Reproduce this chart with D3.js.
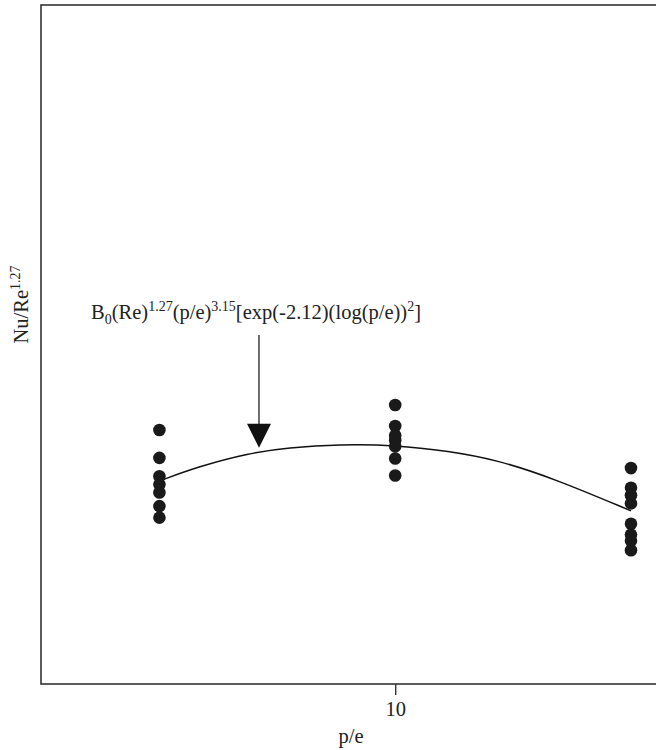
<!DOCTYPE html>
<html><head><meta charset="utf-8">
<script src="https://cdn.jsdelivr.net/npm/d3@7"></script>
<style>body{margin:0;background:#fff}svg{display:block}text{font-family:"Liberation Serif","Times New Roman",serif}</style>
</head><body>
<svg id="c" width="656" height="750"></svg>
<script>
// Data (p/e on a log axis; Nu/Re^1.27 in arbitrary units)
const pe = [5, 10, 20];
const nuLeft  = [0.374, 0.333, 0.306, 0.294, 0.282, 0.262, 0.245];
const nuMid   = [0.411, 0.380, 0.366, 0.359, 0.350, 0.332, 0.307];
const nuRight = [0.318, 0.289, 0.278, 0.266, 0.236, 0.220, 0.211, 0.197];
const fitPe = [5, 5.6, 6.5, 7.3, 8.5, 10, 11.7, 13.5, 16, 20];
const fitNu = [0.299, 0.320, 0.340, 0.348, 0.353, 0.352, 0.343, 0.330, 0.302, 0.255];
const xTicks = [10];
const annX = 6.7, annTop = 0.514, annTip = 0.348;

const FS = 20.5, SS = 14;
const svg = d3.select("#c");
const m = {l: 41, t: 5, r: 661, b: 684};
const x = d3.scaleLog().domain([3.53, 23.1]).range([m.l, 680]);
const y = d3.scaleLinear().domain([0, 1]).range([m.b, m.t]);

// frame
svg.append("rect").attr("x", m.l).attr("y", m.t).attr("width", m.r - m.l).attr("height", m.b - m.t)
  .attr("fill", "none").attr("stroke", "#333").attr("stroke-width", 1.6);

// x axis
const ax = svg.append("g").attr("transform", `translate(0,${m.b})`)
  .call(d3.axisBottom(x).tickValues(xTicks).tickFormat(d3.format("d")).tickSize(11).tickPadding(6));
ax.select(".domain").remove();
ax.selectAll("line").attr("stroke", "#333").attr("stroke-width", 1.4);
ax.selectAll("text").attr("font-family", null).attr("font-size", FS).attr("fill", "#222");

// labels
svg.append("text").attr("x", (m.l + m.r) / 2).attr("y", 743).attr("text-anchor", "middle")
  .attr("font-size", FS).attr("fill", "#222").text("p/e");
const yl = svg.append("text").attr("transform", `translate(28,${(m.t + m.b) / 2 - 40}) rotate(-90)`).attr("text-anchor", "middle")
  .attr("font-size", FS).attr("fill", "#222");
yl.append("tspan").text("Nu/Re");
yl.append("tspan").attr("font-size", SS).attr("dy", -8).text("1.27");

// fitted curve
svg.append("path").datum(fitPe.map((p, i) => [p, fitNu[i]]))
  .attr("d", d3.line().x(d => x(d[0])).y(d => y(d[1])).curve(d3.curveBasis))
  .attr("fill", "none").attr("stroke", "#111").attr("stroke-width", 1.5);

// points
const pts = [];
[nuLeft, nuMid, nuRight].forEach((arr, i) => arr.forEach(v => pts.push([pe[i], v])));
svg.append("g").selectAll("circle").data(pts).join("circle")
  .attr("cx", d => x(d[0])).attr("cy", d => y(d[1])).attr("r", 6.3).attr("fill", "#1a1a1a");

// annotation arrow
const axp = x(annX);
svg.append("line").attr("x1", axp).attr("x2", axp).attr("y1", y(annTop)).attr("y2", y(annTip) - 20)
  .attr("stroke", "#222").attr("stroke-width", 1.3);
svg.append("path").attr("d", `M${axp - 12},${y(annTip) - 24} L${axp + 12},${y(annTip) - 24} L${axp},${y(annTip)} Z`).attr("fill", "#111");

// annotation text
const t = svg.append("text").attr("x", 91).attr("y", 319)
  .attr("font-size", FS).attr("fill", "#222");
const parts = [["B",0],["0",1],["(Re)",0],["1.27",-1],["(p/e)",0],["3.15",-1],["[exp(-2.12)(log(p/e))",0],["2",-1],["]",0]];
let shift = 0;
parts.forEach(([s, k]) => {
  const target = k === 1 ? 5 : k === -1 ? -8 : 0;
  t.append("tspan").attr("dy", target - shift).attr("font-size", k === 0 ? FS : SS).text(s);
  shift = target;
});
</script>
</body></html>
